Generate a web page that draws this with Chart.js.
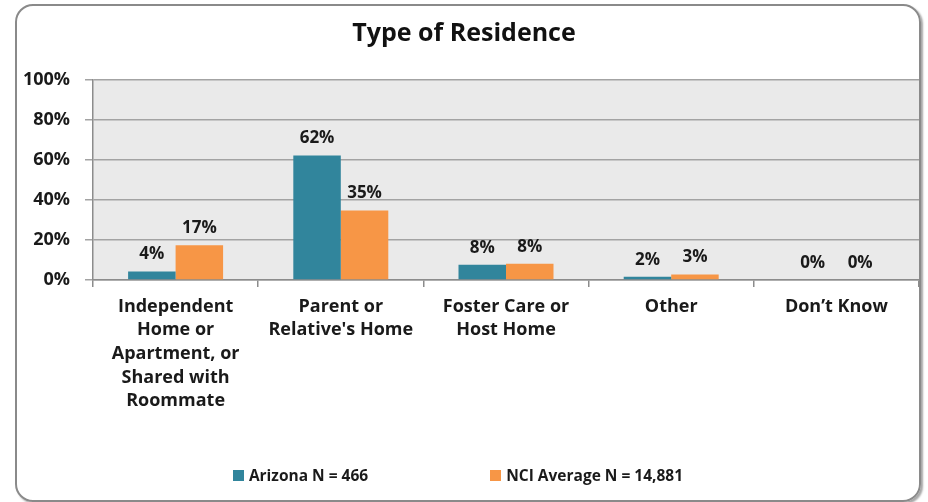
<!DOCTYPE html>
<html>
<head>
<meta charset="utf-8">
<script src="https://cdn.jsdelivr.net/npm/chart.js@4"></script>
<style>
  html, body { margin: 0; padding: 0; background: #fff; }
  #wrap { position: relative; width: 928px; height: 502px; }
  #frame {
    position: absolute; left: 15px; top: 4px; width: 902px; height: 494px;
    border: 2px solid #8a8a8a; border-radius: 18px;
    box-shadow: 2px 2px 2px rgba(0,0,0,0.35);
    pointer-events: none;
  }
  canvas { position: absolute; left: 0; top: 0; }
  #legend {
    position: absolute; left: 0; top: 465px; width: 916px; height: 20px;
    display: flex; justify-content: center; gap: 122px;
    font: bold 15.5px 'Open Sans', sans-serif; color: #1a1a1a;
  }
  .legend-item { display: flex; align-items: center; white-space: nowrap; }
  .legend-box { width: 11px; height: 11px; margin-right: 5px; }
</style>
</head>
<body>
<div id="wrap">
  <canvas id="residenceChart" width="928" height="502"></canvas>
  <div id="legend"></div>
  <div id="frame"></div>
</div>
<script>
//
// data
//
var categories = [
	["Independent", "Home or", "Apartment, or", "Shared with", "Roommate"],
	["Parent or", "Relative's Home"],
	["Foster Care or", "Host Home"],
	["Other"],
	["Don\u2019t Know"]
];
var arizonaValues = [4.2, 62.2, 7.6, 1.6, 0];
var nciValues = [17.4, 34.8, 8.1, 2.8, 0];
var yTicks = [0, 20, 40, 60, 80, 100];

var FONT = "'Open Sans', sans-serif";

// grey fill behind the plot
var plotBackground = {
	id: 'plotBackground',
	beforeDraw: function(chart) {
		var a = chart.chartArea;
		var ctx = chart.ctx;
		ctx.save();
		ctx.fillStyle = '#eaeaea';
		ctx.fillRect(a.left, a.top, a.right - a.left, a.bottom - a.top);
		ctx.restore();
	}
};

// percent labels over each bar
var valueLabels = {
	id: 'valueLabels',
	afterDatasetsDraw: function(chart) {
		var ctx = chart.ctx;
		ctx.save();
		ctx.font = "bold 17px " + FONT;
		ctx.fillStyle = '#1a1a1a';
		ctx.textAlign = 'center';
		ctx.textBaseline = 'middle';
		chart.data.datasets.forEach(function(ds, i) {
			chart.getDatasetMeta(i).data.forEach(function(bar, j) {
				ctx.fillText(Math.round(ds.data[j]) + '%', bar.x, bar.y - 17);
			});
		});
		ctx.restore();
	}
};

// legend items built from the datasets, spaced like the original
var htmlLegend = {
	id: 'htmlLegend',
	afterUpdate: function(chart) {
		var box = document.getElementById("legend");
		box.innerHTML = "";
		var items = chart.options.plugins.legend.labels.generateLabels(chart);
		items.forEach(function(item) {
			var el = document.createElement("span");
			el.className = "legend-item";
			var sq = document.createElement("span");
			sq.className = "legend-box";
			sq.style.background = item.fillStyle;
			el.appendChild(sq);
			el.appendChild(document.createTextNode(item.text));
			box.appendChild(el);
		});
	}
};

var ctx = document.getElementById("residenceChart");

var myBarChart = new Chart(ctx, {
	type: 'bar',
	data: {
		labels: categories,
		datasets: [{
			label: 'Arizona N = 466',
			data: arizonaValues,
			backgroundColor: '#31859c'
		}, {
			label: 'NCI Average N = 14,881',
			data: nciValues,
			backgroundColor: '#f79646'
		}]
	},
	options: {
		responsive: false,
		animation: false,
		layout: { padding: { left: 9, right: 9, top: 0, bottom: 82 } },
		datasets: {
			bar: { categoryPercentage: 0.575, barPercentage: 1.0 }
		},
		scales: {
			x: {
				afterFit: function(scale) { scale.height = 140; },
				grid: { drawOnChartArea: false, tickLength: 7, color: '#8c8c8c', lineWidth: 1.5 },
				border: { color: '#8c8c8c', width: 1.5 },
				ticks: {
					color: '#1a1a1a',
					padding: 8,
					maxRotation: 0,
					autoSkip: false,
					font: { family: FONT, size: 18, weight: 'bold', lineHeight: 1.31 }
				}
			},
			y: {
				min: 0,
				max: 100,
				afterFit: function(scale) { scale.width = 84; },
				afterBuildTicks: function(scale) {
					scale.ticks = yTicks.map(function(v) { return { value: v }; });
				},
				grid: { color: '#a3a3a3', lineWidth: 1.5, tickLength: 8 },
				border: { color: '#8c8c8c', width: 1.5 },
				ticks: {
					color: '#1a1a1a',
					padding: 15,
					font: { family: FONT, size: 18, weight: 'bold' },
					callback: function(v) { return v + '%'; }
				}
			}
		},
		plugins: {
			tooltip: { enabled: false },
			title: {
				display: true,
				text: 'Type of Residence',
				color: '#111',
				font: { family: FONT, size: 25, weight: 'bold', lineHeight: 1.2 },
				padding: { top: 19, bottom: 31 }
			},
			legend: { display: false }
		}
	},
	plugins: [plotBackground, valueLabels, htmlLegend]
});
</script>
</body>
</html>
